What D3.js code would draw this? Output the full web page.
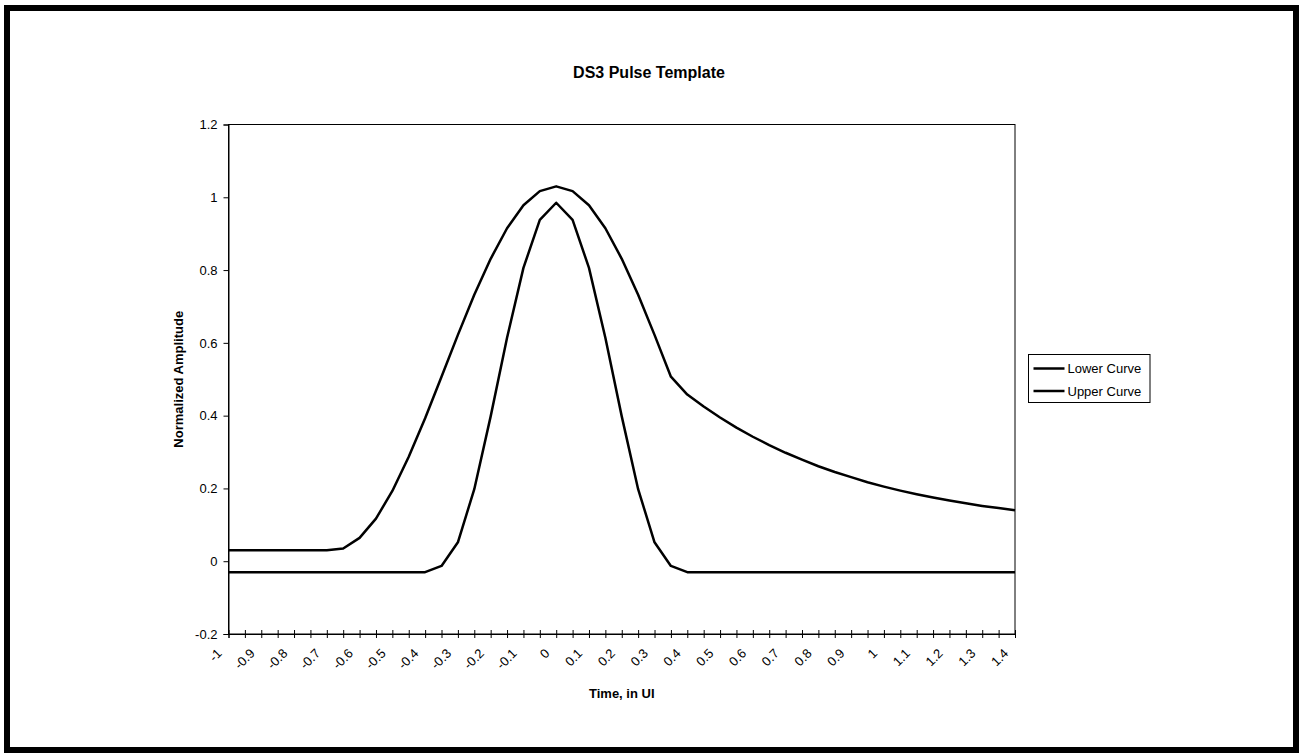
<!DOCTYPE html>
<html lang="en">
<head>
<meta charset="utf-8">
<title>DS3 Pulse Template</title>
<script src="https://cdnjs.cloudflare.com/ajax/libs/d3/7.8.5/d3.min.js"></script>
<style>
  body { margin: 0; background: #fff; }
  svg text { font-family: Arial, "Liberation Sans", sans-serif; fill: #000; }
</style>
</head>
<body>
<svg id="chart" width="1299" height="755"></svg>
<script>
// time in UI, one point every 0.05 UI
const times = [-1, -0.95, -0.9, -0.85, -0.8, -0.75, -0.7, -0.65, -0.6, -0.55,
  -0.5, -0.45, -0.4, -0.35, -0.3, -0.25, -0.2, -0.15, -0.1, -0.05,
  0, 0.05, 0.1, 0.15, 0.2, 0.25, 0.3, 0.35, 0.4, 0.45,
  0.5, 0.55, 0.6, 0.65, 0.7, 0.75, 0.8, 0.85, 0.9, 0.95,
  1, 1.05, 1.1, 1.15, 1.2, 1.25, 1.3, 1.35, 1.4];

const lowerCurve = [-0.03, -0.03, -0.03, -0.03, -0.03, -0.03, -0.03, -0.03, -0.03, -0.03,
  -0.03, -0.03, -0.03, -0.013, 0.052, 0.198, 0.398, 0.614, 0.806, 0.938,
  0.985, 0.938, 0.806, 0.614, 0.398, 0.198, 0.052, -0.013, -0.03, -0.03,
  -0.03, -0.03, -0.03, -0.03, -0.03, -0.03, -0.03, -0.03, -0.03, -0.03,
  -0.03, -0.03, -0.03, -0.03, -0.03, -0.03, -0.03, -0.03, -0.03];

const upperCurve = [0.03, 0.03, 0.03, 0.03, 0.03, 0.03, 0.03, 0.035, 0.064, 0.117,
  0.193, 0.287, 0.393, 0.507, 0.622, 0.732, 0.831, 0.915, 0.978, 1.017,
  1.03, 1.017, 0.978, 0.915, 0.831, 0.732, 0.622, 0.507, 0.458, 0.425,
  0.395, 0.367, 0.342, 0.319, 0.298, 0.279, 0.261, 0.245, 0.231, 0.217,
  0.205, 0.194, 0.184, 0.175, 0.167, 0.159, 0.152, 0.146, 0.140];

const yTicks = [-0.2, 0, 0.2, 0.4, 0.6, 0.8, 1, 1.2];
const seriesNames = ["Lower Curve", "Upper Curve"];

const svg = d3.select("#chart");
const plot = { left: 228.5, right: 1015, top: 124.5, bottom: 634 };

// outer chart frame
svg.append("rect")
  .attr("x", 7).attr("y", 8)
  .attr("width", 1289).attr("height", 742)
  .attr("fill", "#fff")
  .attr("stroke", "#000")
  .attr("stroke-width", 6);

const x = d3.scalePoint()
  .domain(d3.range(times.length))
  .range([plot.left, plot.right]);

const y = d3.scaleLinear()
  .domain([-0.2, 1.2])
  .range([plot.bottom, plot.top]);

// plot area border
svg.append("rect")
  .attr("x", plot.left).attr("y", plot.top)
  .attr("width", plot.right - plot.left)
  .attr("height", plot.bottom - plot.top)
  .attr("fill", "none")
  .attr("stroke", "#000")
  .attr("stroke-width", 1);

// y axis
const yAxis = svg.append("g")
  .attr("transform", `translate(${plot.left},0)`)
  .call(d3.axisLeft(y).tickValues(yTicks).tickSize(5).tickPadding(6)
    .tickFormat(d => String(d)));
yAxis.select(".domain").attr("stroke", "#000");
yAxis.selectAll("text").attr("font-size", 13);

// x axis: tick marks cross the axis, labels every second point
const xAxis = svg.append("g")
  .attr("transform", `translate(0,${plot.bottom})`)
  .call(d3.axisBottom(x).tickSize(4).tickFormat(""));
xAxis.select(".domain").attr("stroke", "#000");
xAxis.selectAll(".tick line").attr("y1", -4).attr("stroke", "#000");

svg.append("g")
  .selectAll("text")
  .data(times.map((t, i) => ({ t, i })).filter(d => d.i % 2 === 0))
  .join("text")
  .attr("transform", d => `translate(${x(d.i) - 9},${plot.bottom + 17}) rotate(-45)`)
  .attr("text-anchor", "end")
  .attr("dy", "0.35em")
  .attr("font-size", 13)
  .text(d => String(d.t));

// curves
const line = d3.line()
  .x((d, i) => x(i))
  .y(d => y(d));

[lowerCurve, upperCurve].forEach(values => {
  svg.append("path")
    .datum(values)
    .attr("d", line)
    .attr("fill", "none")
    .attr("stroke", "#000")
    .attr("stroke-width", 2.5)
    .attr("stroke-linejoin", "round");
});

// titles
svg.append("text")
  .attr("x", 649).attr("y", 78)
  .attr("text-anchor", "middle")
  .attr("font-size", 16).attr("font-weight", "bold")
  .text("DS3 Pulse Template");

svg.append("text")
  .attr("x", (plot.left + plot.right) / 2).attr("y", 698)
  .attr("text-anchor", "middle")
  .attr("font-size", 13).attr("font-weight", "bold")
  .text("Time, in UI");

svg.append("text")
  .attr("transform", `translate(183,${(plot.top + plot.bottom) / 2}) rotate(-90)`)
  .attr("text-anchor", "middle")
  .attr("font-size", 13).attr("font-weight", "bold")
  .text("Normalized Amplitude");

// legend
const legend = svg.append("g").attr("transform", "translate(1028.5,354.5)");
legend.append("rect")
  .attr("width", 121.5).attr("height", 48)
  .attr("fill", "#fff")
  .attr("stroke", "#000")
  .attr("stroke-width", 1);

const item = legend.selectAll("g.item")
  .data(seriesNames)
  .join("g")
  .attr("class", "item")
  .attr("transform", (d, i) => `translate(0,${14 + i * 22.5})`);
item.append("line")
  .attr("x1", 5).attr("x2", 36)
  .attr("stroke", "#000").attr("stroke-width", 2.5);
item.append("text")
  .attr("x", 39).attr("dy", "0.35em")
  .attr("font-size", 13)
  .text(d => d);
</script>
</body>
</html>
